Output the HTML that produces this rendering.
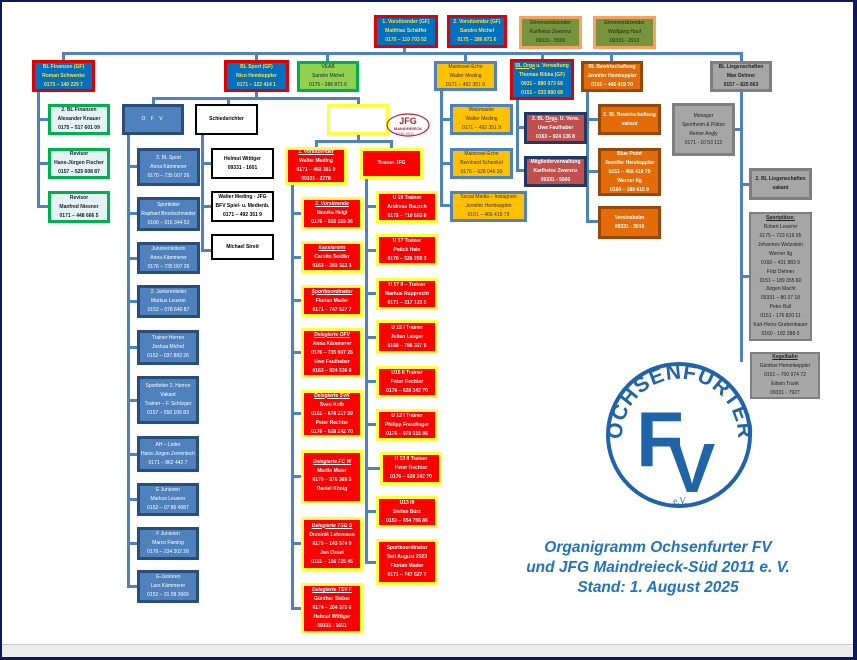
<!DOCTYPE html>
<html><head><meta charset="utf-8"><style>
*{margin:0;padding:0;box-sizing:border-box}
body{width:857px;height:660px;position:relative;overflow:hidden;background:#fff;font-family:"Liberation Sans",sans-serif}
.frame{position:absolute;left:0;top:0;width:857px;height:660px;border:2px solid #0c1a5c;border-right-width:4px;border-bottom-width:3px;z-index:5;pointer-events:none}
.strip{position:absolute;left:0;top:644px;width:857px;height:16px;background:#ececec;border-top:1px solid #c8c8c8}
.b{position:absolute;display:flex;flex-direction:column;justify-content:center;align-items:center;text-align:center;font-size:5px;line-height:9px;font-weight:bold;white-space:nowrap;overflow:hidden}
.l{position:absolute;background:#4f81bd}
.bl{background:#0070c0;border:3px solid #e00000;color:#ffe040}
.ol{background:#77933c;border:3px solid #f4a460;color:#1a2a0a;font-weight:normal}
.gr{background:#92d050;border:3px solid #00b050;color:#223}
.ye{background:#ffc000;border:3px solid #4f81bd;color:#333;font-weight:normal}
.or{background:#e36c09;border:3px solid #974806;color:#fff}
.gy{background:#a6a6a6;border:3px solid #7f7f7f;color:#222}
.gy2{background:#a6a6a6;border:2px solid #7f7f7f;color:#222;font-weight:normal}
.fi{background:#e4f1f5;border:3px solid #00b050;color:#222}
.st{background:#4f81bd;border:3px solid #2a4d7a;color:#fff;font-weight:normal}
.wh{background:#fff;border:2px solid #000;color:#000}
.rd{background:#ff0000;border:3px solid #ffff33;color:#fff}
.rr{background:#c0504d;border:3px solid #1f3864;color:#fff}
u{text-decoration:underline}
</style></head><body>
<div class="strip"></div>

<!-- connectors -->
<div class="l" style="left:62px;top:52px;width:680px;height:3px"></div>
<div class="l" style="left:403px;top:47px;width:3px;height:6px"></div>
<div class="l" style="left:62px;top:52px;width:3px;height:9px"></div>
<div class="l" style="left:255px;top:52px;width:3px;height:9px"></div>
<div class="l" style="left:326px;top:52px;width:3px;height:9px"></div>
<div class="l" style="left:464px;top:52px;width:3px;height:9px"></div>
<div class="l" style="left:541px;top:52px;width:3px;height:9px"></div>
<div class="l" style="left:610px;top:52px;width:3px;height:9px"></div>
<div class="l" style="left:740px;top:52px;width:3px;height:9px"></div>

<div class="l" style="left:37px;top:92px;width:3px;height:116px"></div>
<div class="l" style="left:37px;top:118px;width:11px;height:3px"></div>
<div class="l" style="left:37px;top:162px;width:11px;height:3px"></div>
<div class="l" style="left:37px;top:205px;width:11px;height:3px"></div>

<div class="l" style="left:255px;top:91px;width:3px;height:8px"></div>
<div class="l" style="left:152px;top:97px;width:207px;height:3px"></div>
<div class="l" style="left:152px;top:97px;width:3px;height:8px"></div>
<div class="l" style="left:227px;top:97px;width:3px;height:8px"></div>
<div class="l" style="left:357px;top:97px;width:3px;height:8px"></div>

<div class="l" style="left:127px;top:134px;width:3px;height:454px"></div>
<div class="l" style="left:127px;top:165px;width:10px;height:3px"></div>
<div class="l" style="left:127px;top:212px;width:10px;height:3px"></div>
<div class="l" style="left:127px;top:257px;width:10px;height:3px"></div>
<div class="l" style="left:127px;top:300px;width:10px;height:3px"></div>
<div class="l" style="left:127px;top:346px;width:10px;height:3px"></div>
<div class="l" style="left:127px;top:399px;width:10px;height:3px"></div>
<div class="l" style="left:127px;top:453px;width:10px;height:3px"></div>
<div class="l" style="left:127px;top:498px;width:10px;height:3px"></div>
<div class="l" style="left:127px;top:542px;width:10px;height:3px"></div>
<div class="l" style="left:127px;top:585px;width:10px;height:3px"></div>

<div class="l" style="left:201px;top:134px;width:3px;height:118px"></div>
<div class="l" style="left:201px;top:162px;width:10px;height:3px"></div>
<div class="l" style="left:201px;top:205px;width:10px;height:3px"></div>
<div class="l" style="left:201px;top:249px;width:10px;height:3px"></div>

<div class="l" style="left:357px;top:134px;width:3px;height:8px"></div>
<div class="l" style="left:315px;top:140px;width:77px;height:3px"></div>
<div class="l" style="left:315px;top:140px;width:3px;height:8px"></div>
<div class="l" style="left:390px;top:140px;width:3px;height:8px"></div>

<div class="l" style="left:291px;top:185px;width:3px;height:425px"></div>
<div class="l" style="left:291px;top:212px;width:10px;height:3px"></div>
<div class="l" style="left:291px;top:256px;width:10px;height:3px"></div>
<div class="l" style="left:291px;top:299px;width:10px;height:3px"></div>
<div class="l" style="left:291px;top:351px;width:10px;height:3px"></div>
<div class="l" style="left:291px;top:412px;width:10px;height:3px"></div>
<div class="l" style="left:291px;top:475px;width:10px;height:3px"></div>
<div class="l" style="left:291px;top:542px;width:10px;height:3px"></div>
<div class="l" style="left:291px;top:607px;width:10px;height:3px"></div>

<div class="l" style="left:365px;top:178px;width:3px;height:386px"></div>
<div class="l" style="left:365px;top:205px;width:11px;height:3px"></div>
<div class="l" style="left:365px;top:249px;width:11px;height:3px"></div>
<div class="l" style="left:365px;top:292px;width:11px;height:3px"></div>
<div class="l" style="left:365px;top:336px;width:11px;height:3px"></div>
<div class="l" style="left:365px;top:380px;width:11px;height:3px"></div>
<div class="l" style="left:365px;top:423px;width:11px;height:3px"></div>
<div class="l" style="left:365px;top:467px;width:15px;height:3px"></div>
<div class="l" style="left:365px;top:510px;width:11px;height:3px"></div>
<div class="l" style="left:365px;top:561px;width:11px;height:3px"></div>

<div class="l" style="left:440px;top:90px;width:3px;height:117px"></div>
<div class="l" style="left:440px;top:118px;width:10px;height:3px"></div>
<div class="l" style="left:440px;top:162px;width:10px;height:3px"></div>
<div class="l" style="left:440px;top:204px;width:10px;height:3px"></div>

<div class="l" style="left:516px;top:99px;width:3px;height:73px"></div>
<div class="l" style="left:516px;top:126px;width:8px;height:3px"></div>
<div class="l" style="left:516px;top:169px;width:8px;height:3px"></div>

<div class="l" style="left:586px;top:92px;width:3px;height:131px"></div>
<div class="l" style="left:586px;top:118px;width:12px;height:3px"></div>
<div class="l" style="left:586px;top:170px;width:12px;height:3px"></div>
<div class="l" style="left:586px;top:220px;width:12px;height:3px"></div>

<div class="l" style="left:740px;top:92px;width:3px;height:270px"></div>
<div class="l" style="left:734px;top:128px;width:8px;height:3px"></div>
<div class="l" style="left:740px;top:183px;width:9px;height:3px"></div>
<div class="l" style="left:740px;top:275px;width:9px;height:3px"></div>

<!-- top row -->
<div class="b bl" style="left:374px;top:15px;width:64px;height:33px"><div>1. Vorsitzender (GF)</div><div>Matthias Schäffer</div><div>0170 – 110 703 52</div></div>
<div class="b bl" style="left:447px;top:15px;width:60px;height:33px"><div>2. Vorsitzender (GF)</div><div>Sandro Michel</div><div>0175 – 286 871 6</div></div>
<div class="b ol" style="left:519px;top:16px;width:63px;height:33px"><div>Ehrenvorsitzender</div><div>Karlheinz Zwerenz</div><div>09331 - 5500</div></div>
<div class="b ol" style="left:593px;top:16px;width:63px;height:33px"><div>Ehrenvorsitzender</div><div>Wolfgang Hauf</div><div>09331 - 2913</div></div>

<!-- second row -->
<div class="b bl" style="left:32px;top:60px;width:63px;height:32px"><div>BL Finanzen (GF)</div><div>Roman Schwenke</div><div>0173 – 140 229 7</div></div>
<div class="b bl" style="left:224px;top:60px;width:65px;height:32px"><div>BL Sport (GF)</div><div>Nico Hemkeppler</div><div>0171 – 122 414 1</div></div>
<div class="b gr" style="left:297px;top:61px;width:62px;height:31px;font-weight:normal"><div>VEAB</div><div>Sandro Michel</div><div>0175 - 286 871 6</div></div>
<div class="b ye" style="left:434px;top:61px;width:63px;height:30px"><div>Maininsel-Echo</div><div>Walter Meding</div><div>0171 – 492 351 9</div></div>
<div class="b bl" style="left:510px;top:59px;width:64px;height:41px"><div><u>BL Orga</u> u. Verwaltung</div><div>Thomas Ribka (GF)</div><div>0931 – 880 073 68</div><div>0151 – 533 880 68</div></div>
<div class="b or" style="left:581px;top:61px;width:62px;height:31px"><div>BL Bewirtschaftung</div><div>Jennifer Hemkeppler</div><div>0151 – 466 419 70</div></div>
<div class="b gy" style="left:710px;top:61px;width:62px;height:31px"><div>BL Liegenschaften</div><div>Max Dehner</div><div>0157 – 825 663</div></div>

<!-- Finanzen -->
<div class="b fi" style="left:48px;top:104px;width:62px;height:31px"><div>2. BL Finanzen</div><div>Alexander Knauer</div><div>0175 – 517 601 09</div></div>
<div class="b fi" style="left:48px;top:148px;width:62px;height:31px"><div>Revisor</div><div>Hans-Jürgen Fischer</div><div>0157 – 525 608 87</div></div>
<div class="b fi" style="left:48px;top:191px;width:62px;height:32px"><div>Revisor</div><div>Manfred Niesner</div><div>0171 – 448 666 5</div></div>

<!-- OFV -->
<div class="b st" style="left:122px;top:104px;width:62px;height:31px;letter-spacing:2px">O F V</div>
<div class="b wh" style="left:195px;top:104px;width:63px;height:31px">Schiedsrichter</div>
<div class="b st" style="left:137px;top:148px;width:63px;height:38px"><div>2. BL Sport</div><div>Anna Kämmerer</div><div>0170 – 735 007 26</div></div>
<div class="b st" style="left:137px;top:197px;width:63px;height:34px"><div>Sportleiter</div><div>Raphael Brockschnieder</div><div>0160 – 916 344 53</div></div>
<div class="b st" style="left:137px;top:242px;width:63px;height:32px"><div>Juniorenleiterin</div><div>Anna Kämmerer</div><div>0176 – 735 007 26</div></div>
<div class="b st" style="left:137px;top:285px;width:63px;height:33px"><div>2. Juniorenleiter</div><div>Markus Leuerer</div><div>0152 – 078 640 87</div></div>
<div class="b st" style="left:137px;top:330px;width:62px;height:35px"><div>Trainer Herren</div><div>Joshua Michel</div><div>0152 – 037 883 26</div></div>
<div class="b st" style="left:137px;top:376px;width:62px;height:48px"><div>Sportleiter 2. Herren</div><div>Vakant</div><div>Trainer – F. Schürger</div><div>0157 – 550 105 83</div></div>
<div class="b st" style="left:137px;top:436px;width:62px;height:36px"><div>AH – Leiter</div><div>Hans-Jürgen Zerrentsch</div><div>0171 – 862 442 7</div></div>
<div class="b st" style="left:137px;top:483px;width:62px;height:33px"><div>E Junioren</div><div>Markus Leuerer</div><div>0152 – 07 86 4087</div></div>
<div class="b st" style="left:137px;top:527px;width:62px;height:33px"><div>F Junioren</div><div>Marco Fiening</div><div>0176 – 234 302 28</div></div>
<div class="b st" style="left:137px;top:570px;width:62px;height:33px"><div>G-Junioren</div><div>Lars Kämmerer</div><div>0152 – 31 09 2666</div></div>

<div class="b wh" style="left:211px;top:148px;width:63px;height:31px"><div>Helmut Wittiger</div><div>09331 - 1601</div></div>
<div class="b wh" style="left:211px;top:191px;width:63px;height:31px"><div>Walter Meding - JFG</div><div>BFV Spiel- u. Medienb.</div><div>0171 – 492 351 9</div></div>
<div class="b wh" style="left:211px;top:234px;width:63px;height:26px">Michael Streit</div>

<!-- JFG -->
<div class="b" style="left:327px;top:104px;width:62px;height:31px;border:3px solid #ffff33;background:#fff"></div>
<svg style="position:absolute;left:385px;top:112px" width="46" height="26" viewBox="0 0 46 26"><ellipse cx="23" cy="13" rx="21" ry="11" fill="none" stroke="#b0243a" stroke-width="1.2"/><text x="23" y="12" text-anchor="middle" font-family="Liberation Sans" font-size="9" font-weight="bold" fill="#b0243a">JFG</text><text x="23" y="18" text-anchor="middle" font-family="Liberation Sans" font-size="4" font-weight="bold" fill="#b0243a">MAINDREIECK</text><text x="20" y="23" text-anchor="middle" font-family="Liberation Sans" font-size="4" fill="#b0243a">SÜD 2011</text></svg>
<div class="b rd" style="left:285px;top:147px;width:62px;height:38px"><div><u>1. Vorsitzender</u></div><div>Walter Meding</div><div>0171 – 492 351 9</div><div>09331 - 2278</div></div>
<div class="b rd" style="left:360px;top:148px;width:63px;height:31px">Trainer JFG</div>
<div class="b rd" style="left:301px;top:197px;width:62px;height:33px"><div><u><i>2. Vorsitzende</i></u></div><div>Monika Heigl</div><div>0176 – 555 159 96</div></div>
<div class="b rd" style="left:301px;top:241px;width:62px;height:32px"><div><u><i>Kassiererin</i></u></div><div>Carolin Seidler</div><div>0163 – 269 322 3</div></div>
<div class="b rd" style="left:301px;top:285px;width:62px;height:32px"><div><u><i>Sportkoordinator</i></u></div><div>Florian Mader</div><div>0171 – 747 527 7</div></div>
<div class="b rd" style="left:301px;top:328px;width:62px;height:50px"><div><u><i>Delegierte OFV</i></u></div><div>Anna Kämmerer</div><div>0176 – 735 007 26</div><div>Uwe Faulhaber</div><div>0163 – 924 536 8</div></div>
<div class="b rd" style="left:301px;top:390px;width:62px;height:48px"><div><u><i>Delegierte SVK</i></u></div><div>Sven Kolb</div><div>0151 – 678 217 59</div><div>Peter Rechter</div><div>0176 – 628 242 70</div></div>
<div class="b rd" style="left:301px;top:450px;width:62px;height:54px;justify-content:flex-start;padding-top:5px"><div><u><i>Delegierte FC W</i></u></div><div>Martin Maier</div><div>0170 – 576 369 5</div><div>Daniel König</div></div>
<div class="b rd" style="left:301px;top:517px;width:62px;height:54px"><div><u><i>Delegierte TSG S</i></u></div><div>Dominik Lehrmann</div><div>0179 – 143 974 9</div><div>Jan Ossel</div><div>0151 – 156 725 45</div></div>
<div class="b rd" style="left:301px;top:583px;width:62px;height:51px"><div><u><i>Delegierte TSV F</i></u></div><div>Günther Sieber</div><div>0174 – 204 375 6</div><div>Helmut Wittiger</div><div>09331 - 1601</div></div>

<div class="b rd" style="left:376px;top:191px;width:62px;height:32px"><div>U 19 Trainer</div><div>Andreas Bausch</div><div>0175 – 710 503 8</div></div>
<div class="b rd" style="left:376px;top:234px;width:62px;height:32px"><div>U 17 Trainer</div><div>Patick Hain</div><div>0170 – 526 258 3</div></div>
<div class="b rd" style="left:376px;top:278px;width:62px;height:32px"><div>U 17 II – Trainer</div><div>Markus Rupprecht</div><div>0171 – 317 123 1</div></div>
<div class="b rd" style="left:376px;top:320px;width:62px;height:34px"><div>U 15 I Trainer</div><div>Julian Langer</div><div>0160 – 786 327 5</div></div>
<div class="b rd" style="left:376px;top:366px;width:62px;height:32px"><div>U15 II Trainer</div><div>Peter Rechter</div><div>0176 – 628 242 70</div></div>
<div class="b rd" style="left:376px;top:409px;width:62px;height:32px"><div>U 13 I Trainer</div><div>Philipp Freudinger</div><div>0176 – 978 315 86</div></div>
<div class="b rd" style="left:380px;top:452px;width:62px;height:33px"><div>U 13 II Trainer</div><div>Peter Rechter</div><div>0176 – 628 242 70</div></div>
<div class="b rd" style="left:376px;top:496px;width:62px;height:32px"><div>U13 III</div><div>Stefan Bürz</div><div>0151 – 654 756 86</div></div>
<div class="b rd" style="left:376px;top:539px;width:62px;height:46px"><div>Sportkoordinator</div><div>Seit August 2023</div><div>Florian Mader</div><div>0171 – 747 527 7</div></div>

<!-- Maininsel -->
<div class="b ye" style="left:450px;top:104px;width:63px;height:31px"><div>Webmaster</div><div>Walter Meding</div><div>0171 – 492 351 9</div></div>
<div class="b ye" style="left:450px;top:148px;width:63px;height:31px"><div>Maininsel-Echo</div><div>Bernhard Schenkel</div><div>0176 – 628 046 30</div></div>
<div class="b ye" style="left:450px;top:191px;width:77px;height:31px"><div>Social Media – Instagram</div><div>Jennifer Hemkeppler</div><div>0151 – 466 419 79</div></div>

<!-- Orga -->
<div class="b rr" style="left:524px;top:112px;width:63px;height:32px"><div>2. BL <u>Orga</u>. U. Verw.</div><div>Uwe Faulhaber</div><div>0163 – 924 136 8</div></div>
<div class="b rr" style="left:524px;top:156px;width:63px;height:31px"><div>Mitgliederverwaltung</div><div>Karlheinz Zwerenz</div><div>09331 - 5500</div></div>

<!-- Bewirtschaftung -->
<div class="b or" style="left:598px;top:104px;width:63px;height:31px"><div>2. BL Bewirtschaftung</div><div>vakant</div></div>
<div class="b or" style="left:598px;top:148px;width:63px;height:48px"><div>Blue Point</div><div>Jennifer Hemkeppler</div><div>0151 – 466 419 79</div><div>Werner Ilg</div><div>0160 – 189 615 9</div></div>
<div class="b or" style="left:598px;top:206px;width:63px;height:33px"><div>Vereinsheim</div><div>09331 - 3919</div></div>

<!-- Liegenschaften -->
<div class="b gy" style="left:672px;top:103px;width:63px;height:53px;font-weight:normal"><div>Manager</div><div>Sportheim &amp; Plätze</div><div>Reiner Angly</div><div>0171 - 10 53 112</div></div>
<div class="b gy" style="left:749px;top:168px;width:63px;height:32px"><div>2. BL Liegenschaften</div><div>vakant</div></div>
<div class="b gy2" style="left:749px;top:212px;width:63px;height:129px;line-height:8.9px"><div style="font-weight:bold"><u>Sportplätze:</u></div><div>Robert Leuerer</div><div>0175 – 723 616 95</div><div>Johannes Wetzstein</div><div>Werner Ilg</div><div>0160 – 431 883 9</div><div>Fritz Dehner</div><div>0151 – 189 355 60</div><div>Jürgen Macht</div><div>09331 – 80 37 18</div><div>Peter Bull</div><div>0151 - 176 820 11</div><div>Karl-Heinz Grabenbauer</div><div>0160 - 182 288 0</div></div>
<div class="b gy2" style="left:750px;top:352px;width:70px;height:47px"><div style="font-weight:bold"><u>Kegelbahn</u></div><div>Günther Hemmkeppler</div><div>0151 – 700 974 72</div><div>Edwin Trunk</div><div>09331 - 7927</div></div>

<!-- Logo -->
<svg style="position:absolute;left:600px;top:358px" width="160" height="155" viewBox="0 0 160 155">
<defs><path id="arc" d="M 26 100 A 58 58 0 1 1 134 100"/></defs>
<circle cx="79" cy="77" r="71" fill="#fff" stroke="#1f64a8" stroke-width="4"/>
<text font-family="Liberation Sans" font-size="21" font-weight="bold" fill="#1f64a8" letter-spacing="1"><textPath href="#arc" startOffset="50%" text-anchor="middle">OCHSENFURTER</textPath></text>
<text x="60" y="108" font-family="Liberation Sans" font-size="78" font-weight="bold" fill="#1f64a8" text-anchor="middle">F</text>
<text x="92" y="134" font-family="Liberation Sans" font-size="70" font-weight="bold" fill="#1f64a8" text-anchor="middle">V</text>
<text x="80" y="146" font-family="Liberation Serif" font-size="9" fill="#1f64a8" text-anchor="middle">e.V.</text>
</svg>

<div style="position:absolute;left:520px;top:538px;width:276px;text-align:center;font-family:'Liberation Sans',sans-serif;font-size:15.5px;font-weight:bold;font-style:italic;color:#1f72c4;line-height:20px">Organigramm Ochsenfurter FV<br>und JFG Maindreieck-Süd 2011 e. V.<br>Stand: 1. August 2025</div>

<div class="frame"></div>
</body></html>
